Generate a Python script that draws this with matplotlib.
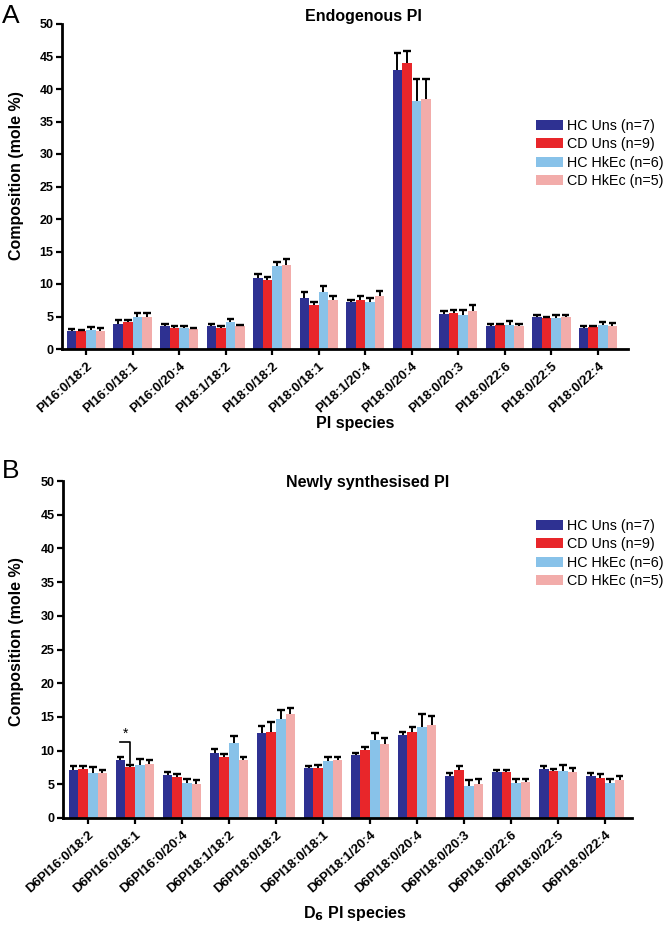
import numpy as np
import matplotlib
matplotlib.use('Agg')
import matplotlib.pyplot as plt
from matplotlib.patches import Patch

plt.rcParams['font.family'] = ['Liberation Sans', 'DejaVu Sans']

# Группы и подписи
groups = ['HC Uns (n=7)', 'CD Uns (n=9)', 'HC HkEc (n=6)', 'CD HkEc (n=5)']
colors = ['#2E3192', '#E8262A', '#88C2E9', '#F2ACAA']

species_a = ['PI16:0/18:2', 'PI16:0/18:1', 'PI16:0/20:4', 'PI18:1/18:2', 'PI18:0/18:2',
             'PI18:0/18:1', 'PI18:1/20:4', 'PI18:0/20:4', 'PI18:0/20:3', 'PI18:0/22:6',
             'PI18:0/22:5', 'PI18:0/22:4']
species_b = ['D6' + s for s in species_a]

# Панель A: эндогенный PI (среднее и SEM)
hc_uns_a = [2.8, 3.9, 3.5, 3.5, 11.0, 7.8, 7.2, 42.9, 5.4, 3.6, 4.9, 3.3]
hc_uns_a_err = [0.3, 0.5, 0.4, 0.3, 0.5, 0.9, 0.4, 2.7, 0.5, 0.25, 0.3, 0.3]
cd_uns_a = [2.7, 4.1, 3.3, 3.3, 10.6, 6.7, 7.6, 44.0, 5.5, 3.7, 4.8, 3.4]
cd_uns_a_err = [0.2, 0.3, 0.2, 0.2, 0.5, 0.6, 0.5, 1.8, 0.5, 0.2, 0.2, 0.2]
hc_hk_a = [3.0, 4.9, 3.2, 4.1, 12.7, 8.7, 7.2, 38.2, 5.3, 3.7, 4.8, 3.7]
hc_hk_a_err = [0.4, 0.6, 0.4, 0.5, 0.7, 1.0, 0.6, 3.4, 0.7, 0.55, 0.5, 0.5]
cd_hk_a = [2.8, 4.9, 3.1, 3.6, 13.0, 7.5, 8.2, 38.5, 5.8, 3.6, 5.0, 3.6]
cd_hk_a_err = [0.4, 0.7, 0.2, 0.1, 0.9, 0.7, 0.8, 3.0, 0.9, 0.3, 0.3, 0.4]

# Панель B: вновь синтезированный PI
hc_uns_b = [7.16, 8.6, 6.37, 9.6, 12.6, 7.4, 9.3, 12.3, 6.27, 6.8, 7.3, 6.3]
hc_uns_b_err = [0.6, 0.5, 0.45, 0.6, 1.1, 0.25, 0.3, 0.5, 0.4, 0.36, 0.35, 0.36]
cd_uns_b = [7.3, 7.55, 6.07, 9.0, 12.8, 7.4, 10.1, 12.8, 7.16, 6.76, 7.0, 6.0]
cd_uns_b_err = [0.4, 0.35, 0.45, 0.5, 1.5, 0.4, 0.5, 0.7, 0.6, 0.4, 0.3, 0.56]
hc_hk_b = [6.66, 7.9, 5.2, 11.2, 14.7, 8.5, 11.5, 13.5, 4.7, 5.2, 7.0, 5.2]
hc_hk_b_err = [0.85, 0.9, 0.6, 1.0, 1.3, 0.6, 1.1, 2.0, 1.0, 0.6, 0.9, 0.6]
cd_hk_b = [6.66, 8.0, 5.1, 8.6, 15.4, 8.6, 11.0, 13.8, 5.0, 5.3, 6.86, 5.7]
cd_hk_b_err = [0.5, 0.6, 0.5, 0.5, 0.9, 0.4, 0.85, 1.4, 0.8, 0.5, 0.55, 0.5]

fig = plt.figure(figsize=(6.64, 9.31), dpi=100)
ax_a = fig.add_axes([62 / 664, 1 - 349 / 931, 566 / 664, 325 / 931])
ax_b = fig.add_axes([63 / 664, 1 - 818 / 931, 569 / 664, 337 / 931])

w = 0.205
cap = 0.08


def draw_panel(ax, labels, series, errs, title, title_xy, xlabel, xlabel_xy, ylabel_xy, xlim):
    x = np.arange(len(labels))
    for i, (vals, err) in enumerate(zip(series, errs)):
        pos = x + (i - 1.5) * w
        vals = np.array(vals)
        top = vals + np.array(err)
        ax.bar(pos, vals, width=w, color=colors[i], edgecolor='none', zorder=2)
        # только верхняя половина планки погрешности
        ax.vlines(pos, vals, top, color='black', lw=1.4, zorder=3)
        ax.hlines(top, pos - cap, pos + cap, color='black', lw=1.7, zorder=3)
    ax.set_xlim(*xlim)
    ax.set_ylim(0, 50)
    ax.set_yticks(range(0, 51, 5))
    ax.set_xticks(x)
    ax.set_xticklabels(labels, rotation=42, ha='right', rotation_mode='anchor',
                       fontsize=9.5, fontweight='bold')
    for lab in ax.get_yticklabels():
        lab.set_fontweight('bold')
        lab.set_fontsize(9)
    ax.tick_params(axis='both', direction='out', length=4, width=1.6, pad=2)
    ax.tick_params(axis='x', pad=4)
    for s in ['top', 'right']:
        ax.spines[s].set_visible(False)
    for s in ['left', 'bottom']:
        ax.spines[s].set_linewidth(2)
    ax.set_ylabel('Composition (mole %)', fontsize=11.5, fontweight='bold')
    ax.yaxis.set_label_coords(*ylabel_xy)
    ax.set_xlabel(xlabel, fontsize=11.5, fontweight='bold')
    ax.xaxis.set_label_coords(*xlabel_xy)
    ax.text(title_xy[0], title_xy[1], title, transform=ax.transAxes, ha='center',
            va='baseline', fontsize=11.5, fontweight='bold')


draw_panel(ax_a, species_a,
           [hc_uns_a, cd_uns_a, hc_hk_a, cd_hk_a],
           [hc_uns_a_err, cd_uns_a_err, hc_hk_a_err, cd_hk_a_err],
           'Endogenous PI', (0.532, 1.009), 'PI species', (0.518, -0.205),
           (-0.067, 0.535), (-0.516, 11.645))
draw_panel(ax_b, species_b,
           [hc_uns_b, cd_uns_b, hc_hk_b, cd_hk_b],
           [hc_uns_b_err, cd_uns_b_err, hc_hk_b_err, cd_hk_b_err],
           'Newly synthesised PI', (0.535, 0.982), r'D$_\mathbf{6}$ PI species', (0.513, -0.255),
           (-0.0685, 0.525), (-0.53, 11.57))

# Значимость (*) между HC Uns и CD Uns для D6PI16:0/18:1
x1 = 1 - 1.5 * w
x2 = 1 - 0.5 * w
ax_b.plot([x1, x2, x2], [11.35, 11.35, 8.1], color='black', lw=1.2, zorder=4)
ax_b.text((x1 + x2) / 2, 11.5, '*', ha='center', va='bottom', fontsize=10)

handles = [Patch(facecolor=c, edgecolor='none') for c in colors]
for top in [119, 519]:
    fig.legend(handles, groups, loc='upper left',
               bbox_to_anchor=(536 / 664, 1 - top / 931), frameon=False,
               fontsize=10.3, handlelength=1.9, handleheight=0.7,
               handletextpad=0.25, labelspacing=0.3, borderpad=0, borderaxespad=0)

fig.text(2 / 664, 1 - 23 / 931, 'A', fontsize=19)
fig.text(2 / 664, 1 - 478 / 931, 'B', fontsize=19)

fig.savefig('out.png', dpi=100)
